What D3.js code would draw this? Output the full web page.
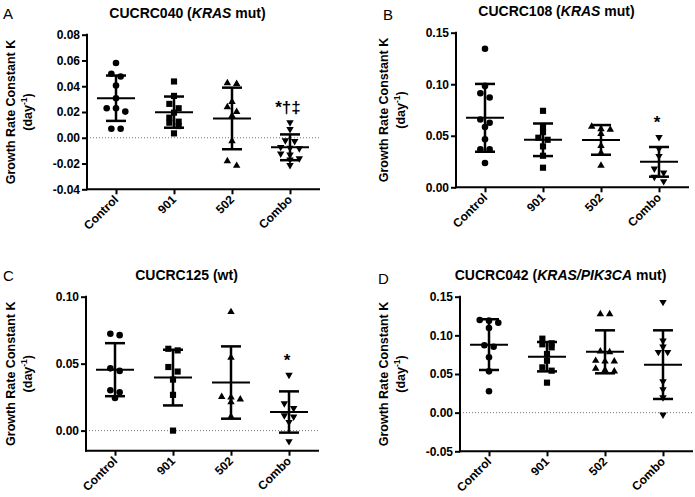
<!DOCTYPE html>
<html><head><meta charset="utf-8">
<script src="https://cdn.jsdelivr.net/npm/d3@7"></script>
<style>body{margin:0;background:#fff}svg{display:block}</style>
</head><body><svg id="c" width="695" height="497"></svg>
<script>
const categories = ["Control", "901", "502", "Combo"];

// Panel A – CUCRC040 (KRAS mut)
const aControl = [0.058, 0.0497, 0.0476, 0.0406, 0.0307, 0.0229, 0.0229, 0.0203, 0.007, 0.007];
const a901 = [0.0437, 0.0325, 0.0263, 0.0229, 0.0195, 0.0156, 0.0125, 0.0117, 0.0091, 0.0034];
const a502 = [0.0424, 0.0419, 0.0279, 0.0238, 0.0202, 0.0171, -0.0026, -0.0181, -0.0217];
const aCombo = [0.0119, 0.0067, -0.0021, -0.0026, -0.0072, -0.0078, -0.0083, -0.0124, -0.0132, -0.016, -0.017, -0.0212];
const aMean = [0.0307, 0.0199, 0.0150, -0.0074];
const aSD = [0.0176, 0.0121, 0.0239, 0.0100];
const aTicks = [-0.04, -0.02, 0, 0.02, 0.04, 0.06, 0.08];
const aNotes = ["", "", "", "*\u2020\u2021"];

// Panel B – CUCRC108 (KRAS mut)
const bControl = [0.1345, 0.0984, 0.0913, 0.0871, 0.0658, 0.0626, 0.0584, 0.0465, 0.0368, 0.0368, 0.0235];
const b901 = [0.0742, 0.0584, 0.0535, 0.0481, 0.0461, 0.0397, 0.0306, 0.019];
const b502 = [0.059, 0.0565, 0.0561, 0.0519, 0.0403, 0.0335, 0.021];
const bCombo = [0.0487, 0.0374, 0.0303, 0.0181, 0.0142, 0.01, 0.0058];
const bMean = [0.0674, 0.0461, 0.0460, 0.0247];
const bSD = [0.0329, 0.0158, 0.0144, 0.0144];
const bTicks = [0, 0.05, 0.10, 0.15];
const bNotes = ["", "", "", "*"];

// Panel C – CUCRC125 (wt)
const cControl = [0.0723, 0.0713, 0.0465, 0.0446, 0.0302, 0.0287, 0.0243];
const c901 = [0.0611, 0.0599, 0.0475, 0.0441, 0.0381, 0.0267, 0.0];
const c502 = [0.0886, 0.0545, 0.0252, 0.0248, 0.0233, 0.0213, 0.0104];
const cCombo = [0.0416, 0.0203, 0.0168, 0.0114, 0.0104, 0.0064, -0.008];
const cMean = [0.0455, 0.0396, 0.0359, 0.0139];
const cSD = [0.0198, 0.0208, 0.0270, 0.0154];
const cTicks = [0, 0.05, 0.10];
const cNotes = ["", "", "", "*"];

// Panel D – CUCRC042 (KRAS/PIK3CA mut)
const dControl = [0.1198, 0.119, 0.1164, 0.1095, 0.0871, 0.0853, 0.0716, 0.0534, 0.0276];
const d901 = [0.0957, 0.0897, 0.0884, 0.0845, 0.0759, 0.0672, 0.0586, 0.0543, 0.0388];
const d502 = [0.1276, 0.1276, 0.0793, 0.0784, 0.0672, 0.0664, 0.0664, 0.0569, 0.0552, 0.0534];
const dCombo = [0.1431, 0.0931, 0.0853, 0.0784, 0.0784, 0.0405, 0.0302, 0.0198, -0.0026];
const dMean = [0.0880, 0.0724, 0.0787, 0.0621];
const dSD = [0.0328, 0.0190, 0.0278, 0.0444];
const dTicks = [-0.05, 0, 0.05, 0.10, 0.15];
const dNotes = ["", "", "", ""];

const aTitle = [["CUCRC040 (", false], ["KRAS", true], [" mut)", false]];
const bTitle = [["CUCRC108 (", false], ["KRAS", true], [" mut)", false]];
const cTitle = [["CUCRC125 (wt)", false]];
const dTitle = [["CUCRC042 (", false], ["KRAS/PIK3CA", true], [" mut)", false]];

const panels = [
  {letter:"A", lx:3, ly:19, title:aTitle, ty:17.5, left:87, top:34.7, bottom:189.3, domain:[-0.04,0.08], ticks:aTicks,
   groups:[aControl,a901,a502,aCombo], mean:aMean, sd:aSD, notes:aNotes, labX:15, zero:true},
  {letter:"B", lx:383, ly:20, title:bTitle, ty:15.5, left:456, top:32.7, bottom:187.3, domain:[0,0.15], ticks:bTicks,
   groups:[bControl,b901,b502,bCombo], mean:bMean, sd:bSD, notes:bNotes, labX:388, zero:false},
  {letter:"C", lx:3, ly:281, title:cTitle, ty:279.5, left:86, top:296.7, bottom:450.7, domain:[-0.015,0.10], ticks:cTicks,
   groups:[cControl,c901,c502,cCombo], mean:cMean, sd:cSD, notes:cNotes, labX:15, zero:true},
  {letter:"D", lx:378, ly:284, title:dTitle, ty:279.5, left:460, top:296.7, bottom:451.3, domain:[-0.05,0.15], ticks:dTicks,
   groups:[dControl,d901,d502,dCombo], mean:dMean, sd:dSD, notes:dNotes, labX:388, zero:true}
];

const FONT = "'Liberation Sans', Arial, Helvetica, sans-serif";
const svg = d3.select("#c");
const symbols = [d3.symbolCircle, d3.symbolSquare, d3.symbolTriangle, d3.symbolTriangle];
const symSize = [34, 38, 24, 24];
const fmt = v => (Math.abs(v) < 1e-9 ? 0 : v).toFixed(2);

function dodge(vals, y, step, thr) {
  const pts = vals.map(v => ({v, py: y(v)})).sort((a, b) => a.py - b.py);
  const out = []; let row = [];
  const flush = () => { const k = row.length; row.forEach((p, i) => { p.dx = (i - (k - 1) / 2) * step; out.push(p); }); row = []; };
  for (const p of pts) { if (row.length && p.py - row[0].py > thr) flush(); row.push(p); }
  flush();
  return out;
}

panels.forEach(P => {
  const W = 233;
  const g = svg.append("g");
  const x = d3.scalePoint().domain(categories).range([P.left, P.left + 232]).padding(0.5);
  const y = d3.scaleLinear().domain(P.domain).range([P.bottom, P.top]);

  g.append("text").attr("x", P.lx).attr("y", P.ly).attr("font-family", FONT)
    .attr("font-size", 15).attr("fill", "#000").text(P.letter);

  const t = g.append("text").attr("x", P.left + W / 2 - 16).attr("y", P.ty)
    .attr("text-anchor", "middle").attr("font-family", FONT).attr("font-size", 14)
    .attr("font-weight", "bold").attr("fill", "#000");
  P.title.forEach(([s, it]) => t.append("tspan").attr("font-style", it ? "italic" : "normal").text(s));

  const cy = (P.top + P.bottom) / 2;
  g.append("text").attr("transform", `translate(${P.labX},${cy}) rotate(-90)`)
    .attr("text-anchor", "middle").attr("font-family", FONT).attr("font-size", 12.5)
    .attr("font-weight", "bold").text("Growth Rate Constant K");
  const l2 = g.append("text").attr("transform", `translate(${P.labX + 16.5},${cy}) rotate(-90)`)
    .attr("text-anchor", "middle").attr("font-family", FONT).attr("font-size", 12.5)
    .attr("font-weight", "bold");
  l2.append("tspan").text("(day");
  l2.append("tspan").attr("font-size", 8.5).attr("dy", -5).text("-1");
  l2.append("tspan").attr("dy", 5).text(")");

  if (P.zero) {
    g.append("line").attr("x1", P.left).attr("x2", P.left + W).attr("y1", y(0)).attr("y2", y(0))
      .attr("stroke", "#777").attr("stroke-width", 1).attr("stroke-dasharray", "1,2");
  }

  const ya = g.append("g").attr("transform", `translate(${P.left},0)`)
    .call(d3.axisLeft(y).tickValues(P.ticks).tickFormat(fmt).tickSize(5).tickPadding(2));
  ya.select(".domain").remove();
  ya.selectAll(".tick line").attr("stroke", "#000").attr("stroke-width", 2);
  ya.selectAll(".tick text").attr("font-family", FONT).attr("font-size", 12)
    .attr("font-weight", "bold").attr("fill", "#000");

  const xa = g.append("g").attr("transform", `translate(0,${P.bottom})`)
    .call(d3.axisBottom(x).tickSize(5).tickFormat(""));
  xa.select(".domain").remove();
  xa.selectAll(".tick line").attr("stroke", "#000").attr("stroke-width", 2);
  categories.forEach(cat => {
    g.append("text").attr("transform", `translate(${x(cat) + 3},${P.bottom + 11}) rotate(-45)`)
      .attr("text-anchor", "end").attr("font-family", FONT).attr("font-size", 12)
      .attr("font-weight", "bold").attr("fill", "#000").text(cat);
  });

  g.append("line").attr("x1", P.left).attr("x2", P.left).attr("y1", P.top - 1).attr("y2", P.bottom + 1)
    .attr("stroke", "#000").attr("stroke-width", 2);
  g.append("line").attr("x1", P.left - 1).attr("x2", P.left + W).attr("y1", P.bottom).attr("y2", P.bottom)
    .attr("stroke", "#000").attr("stroke-width", 2);

  P.groups.forEach((vals, i) => {
    const cx = x(categories[i]);
    const pts = dodge(vals, y, 9.3, 5);
    const sym = d3.symbol().type(symbols[i]).size(symSize[i]);
    g.selectAll(null).data(pts).join("path")
      .attr("d", sym)
      .attr("transform", d => `translate(${cx + d.dx},${d.py})${i === 3 ? " rotate(180)" : ""}`)
      .attr("fill", "#000");
  });

  P.mean.forEach((m, i) => {
    const cx = x(categories[i]);
    const s = P.sd[i];
    const yt = y(m + s), yb = y(m - s), ym = y(m);
    const bar = g.append("g").attr("stroke", "#000").attr("fill", "none");
    bar.append("line").attr("x1", cx).attr("x2", cx).attr("y1", yt).attr("y2", yb).attr("stroke-width", 2.5);
    bar.append("line").attr("x1", cx - 10).attr("x2", cx + 10).attr("y1", yt).attr("y2", yt).attr("stroke-width", 2.5);
    bar.append("line").attr("x1", cx - 10).attr("x2", cx + 10).attr("y1", yb).attr("y2", yb).attr("stroke-width", 2.5);
    bar.append("line").attr("x1", cx - 19).attr("x2", cx + 19).attr("y1", ym).attr("y2", ym).attr("stroke-width", 2);
  });

  P.notes.forEach((n, i) => {
    if (!n) return;
    const top = d3.max(P.groups[i]);
    g.append("text").attr("x", x(categories[i]) - 2).attr("y", y(top) - 9)
      .attr("text-anchor", "middle").attr("font-family", FONT).attr("font-size", 17)
      .attr("font-weight", "bold").attr("fill", "#000").text(n);
  });
});
</script></body></html>
